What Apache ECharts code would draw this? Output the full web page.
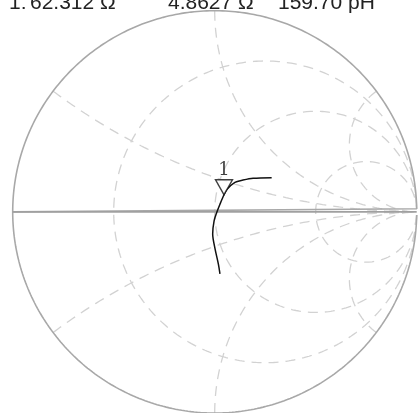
<!DOCTYPE html>
<html><head><meta charset="utf-8">
<script src="https://cdn.jsdelivr.net/npm/echarts/dist/echarts.min.js"></script>
<style>html,body{margin:0;padding:0;background:#fff}#c{width:419px;height:413px}</style>
</head><body><div id="c"></div>
<script>
// Marker readout (top line, partly cut off in the reference)
const readoutTexts = ['1:', '62.312 Ω', '4.8627 Ω', '159.70 pH'];
const readoutX = [9, 30, 168, 278];
// Smith grid values (normalized)
const resistanceCircles = [1/3, 1, 3];
const reactanceArcs = [1/3, 1, 3, -1/3, -1, -3];
// Trace, reflection coefficient
const traceRe = [0.026, 0.018, 0.002, -0.010, -0.003, 0.010, 0.026, 0.046, 0.061, 0.100, 0.140, 0.190, 0.282];
const traceIm = [-0.308, -0.259, -0.185, -0.110, -0.045, -0.003, 0.038, 0.085, 0.112, 0.147, 0.158, 0.167, 0.170];
const markerIndex = 7;
const markerLabel = '1';

function gamma(r, x) { // z -> Gamma
  const dr = r + 1, den = dr * dr + x * x;
  const nr = r - 1;
  return [(nr * dr + x * x) / den, (x * dr - nr * x) / den];
}
const samp = [];
for (let i = -200; i <= 200; i++) samp.push(Math.tan(i / 201 * Math.PI / 2));
const rpos = [];
for (let i = 0; i <= 200; i++) rpos.push(Math.tan(i / 201 * Math.PI / 2));

const gridStyle = { color: '#d2d2d2', width: 1.3, type: [10, 7] };
const series = [];
resistanceCircles.forEach(r => {
  series.push({ type: 'line', data: samp.map(x => gamma(r, x)), symbol: 'none', lineStyle: gridStyle, silent: true, z: 1 });
});
reactanceArcs.forEach(x => {
  series.push({ type: 'line', data: rpos.map(r => gamma(r, x)), symbol: 'none', lineStyle: gridStyle, silent: true, z: 1 });
});
// outer circle (r = 0) and real axis
series.push({ type: 'line', data: samp.map(x => gamma(0, x)).concat([[-1, 0]]), symbol: 'none', lineStyle: { color: '#a8a8a8', width: 1.6 }, silent: true, z: 2 });
series.push({ type: 'line', data: [[-1, 0], [1, 0]], symbol: 'none', lineStyle: { color: '#a0a0a0', width: 1.8 }, silent: true, z: 2 });
// trace
series.push({ type: 'line', data: traceRe.map((v, i) => [v, traceIm[i]]), symbol: 'none', smooth: 0.3, lineStyle: { color: '#111', width: 1.5 }, z: 5 });
// marker
series.push({ type: 'scatter', data: [[traceRe[markerIndex], traceIm[markerIndex]]],
  symbol: 'path://M0,0 L16,0 L8,14 Z', symbolSize: [17, 15], symbolKeepAspect: false, symbolOffset: [0, -7.5],
  itemStyle: { color: '#fff', borderColor: '#111', borderWidth: 1.4 },
  label: { show: true, position: 'top', distance: 0, formatter: markerLabel, fontFamily: 'DejaVu Serif', fontSize: 18, color: '#111' }, z: 6 });

const chart = echarts.init(document.getElementById('c'), null, { renderer: 'canvas' });
chart.setOption({
  animation: false,
  backgroundColor: '#fff',
  grid: { left: 12.7, top: 10.7, width: 404, height: 404 },
  xAxis: { type: 'value', min: -1, max: 1, show: false },
  yAxis: { type: 'value', min: -1, max: 1, show: false },
  graphic: readoutTexts.map((t, i) => ({ type: 'text', x: readoutX[i], y: 14, z: 10,
    style: { text: t, font: '21px "Liberation Sans"', fill: '#222', verticalAlign: 'bottom' } })),
  series: series
});
</script></body></html>
